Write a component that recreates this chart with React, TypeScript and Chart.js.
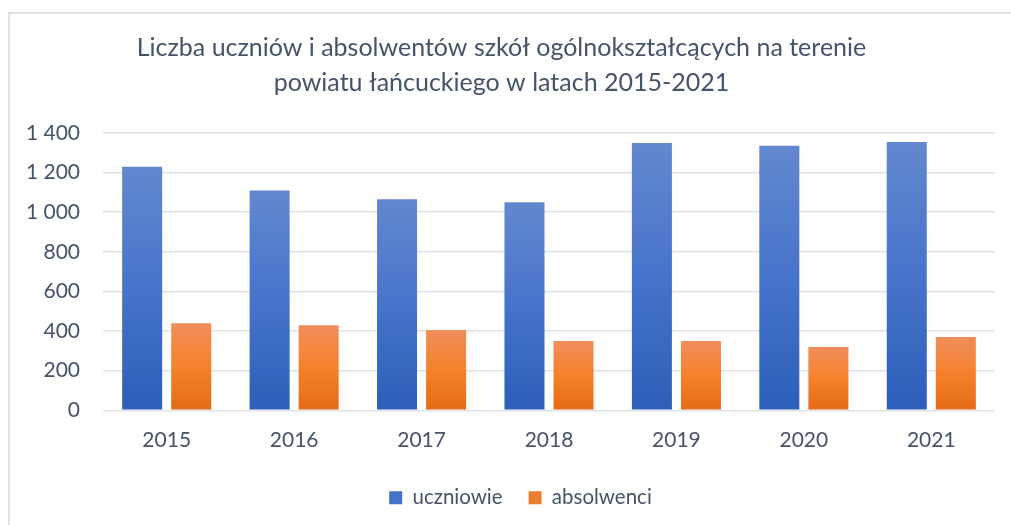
import React, { useEffect, useRef } from "react";
import { Chart, registerables } from "chart.js";

Chart.register(...registerables);

const years = ["2015", "2016", "2017", "2018", "2019", "2020", "2021"];
const uczniowie = [1230, 1110, 1065, 1050, 1350, 1335, 1355];
const absolwenci = [440, 430, 405, 350, 350, 320, 370];
const seriesNames = ["uczniowie", "absolwenci"];
const titleLines = [
  "Liczba uczniów i absolwentów szkół ogólnokształcących na terenie",
  "powiatu łańcuckiego w latach 2015-2021",
];

const blueStops = ["#6388ce", "#4673cb", "#2d5fb8"];
const orangeStops = ["#f08e5c", "#f6812b", "#e46b16"];
const legendColors = ["#4472c4", "#ed7d31"];
const textColor = "#44546a";
const gridColor = "#dfe3e8";
const fontFamily = "Lato, 'Open Sans', sans-serif";

function barGradient(context: any, stops: string[]) {
  const chart = context.chart;
  const scales = chart.scales;
  if (context.type !== "data" || !scales || !scales.y) return stops[1];
  const v = context.raw as number;
  const top = scales.y.getPixelForValue(v);
  const bottom = scales.y.getPixelForValue(0);
  if (!isFinite(top) || !isFinite(bottom) || top === bottom) return stops[1];
  const g = chart.ctx.createLinearGradient(0, top, 0, bottom);
  g.addColorStop(0, stops[0]);
  g.addColorStop(0.5, stops[1]);
  g.addColorStop(1, stops[2]);
  return g;
}

const formatThousands = (v: number) =>
  String(v).replace(/\B(?=(\d{3})+(?!\d))/g, " ");

const legendShift = {
  id: "legendShift",
  afterLayout(chart: any) {
    const lg = chart.legend;
    if (lg) {
      lg.left += 23;
      lg.right += 23;
    }
    const tt = chart.titleBlock;
    if (tt) {
      tt.left += 4;
      tt.right += 4;
    }
  },
};

export default function App() {
  const canvasRef = useRef<HTMLCanvasElement | null>(null);

  useEffect(() => {
    if (!canvasRef.current) return;
    const chart = new Chart(canvasRef.current, {
      type: "bar",
      data: {
        labels: years,
        datasets: [
          {
            label: seriesNames[0],
            data: uczniowie,
            backgroundColor: (ctx: any) => barGradient(ctx, blueStops),
            borderWidth: 0,
            categoryPercentage: 0.77,
            barPercentage: 0.816,
          },
          {
            label: seriesNames[1],
            data: absolwenci,
            backgroundColor: (ctx: any) => barGradient(ctx, orangeStops),
            borderWidth: 0,
            categoryPercentage: 0.77,
            barPercentage: 0.816,
          },
        ],
      },
      options: {
        animation: false,
        responsive: false,
        maintainAspectRatio: false,
        layout: { padding: { left: 0, right: 16, top: 0, bottom: 7 } },
        plugins: {
          title: {
            display: true,
            text: titleLines,
            color: textColor,
            font: { family: fontFamily, size: 25, weight: "normal", lineHeight: 1.4 },
            padding: { top: 30, bottom: 33 },
          },
          legend: {
            position: "bottom",
            labels: {
              color: textColor,
              font: { family: fontFamily, size: 20.5 },
              boxWidth: 13,
              boxHeight: 13,
              padding: 26,
              generateLabels: () =>
                seriesNames.map((n, i) => ({
                  text: n,
                  fillStyle: legendColors[i],
                  strokeStyle: legendColors[i],
                  lineWidth: 0,
                  datasetIndex: i,
                  hidden: false,
                  fontColor: textColor,
                })),
            },
          },
          tooltip: { enabled: false },
        },
        scales: {
          x: {
            grid: { display: false },
            border: { display: false },
            ticks: {
              color: textColor,
              font: { family: fontFamily, size: 21 },
              padding: 9,
            },
          },
          y: {
            min: 0,
            max: 1400,
            afterFit: (scale: any) => {
              scale.width = 103;
            },
            grid: { color: gridColor, lineWidth: 1.6, drawTicks: false },
            border: { display: false },
            ticks: {
              stepSize: 200,
              color: textColor,
              font: { family: fontFamily, size: 21 },
              padding: 23,
              callback: (v: any) => formatThousands(Number(v)),
            },
          },
        },
      },
      plugins: [legendShift],
    });
    return () => chart.destroy();
  }, []);

  return (
    <div style={{ position: "absolute", left: 0, top: 0, width: 1011, height: 525, background: "#fff" }}>
      <div
        style={{
          position: "absolute",
          left: 8,
          top: 12,
          right: 0,
          bottom: 0,
          borderLeft: "2px solid #dde2e9",
          borderTop: "2px solid #dde2e9",
        }}
      />
      <canvas
        ref={canvasRef}
        width={1011}
        height={525}
        style={{ position: "absolute", left: 0, top: 0, width: 1011, height: 525 }}
      />
    </div>
  );
}
